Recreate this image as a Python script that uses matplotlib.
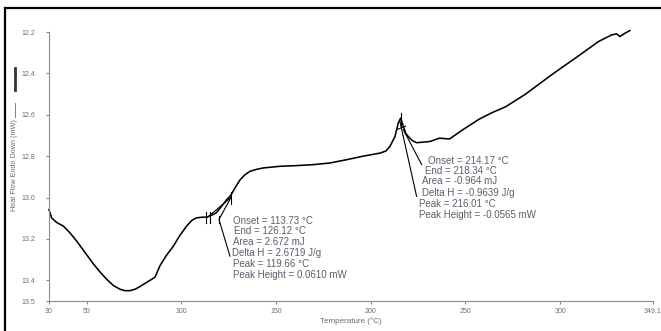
import matplotlib.pyplot as plt
from matplotlib.lines import Line2D

plt.rcParams['font.family'] = ['Liberation Sans', 'DejaVu Sans']

# DSC trace
temperature = [30.0, 31.4, 34.0, 37.6, 41.0, 44.6, 49.0, 53.4, 57.0, 60.5, 64.0, 67.5,
               70.0, 72.8, 75.5, 78.1, 81.0, 83.4, 86.0, 88.6, 92.0, 95.7, 99.0, 102.7,
               105.5, 108.0, 111.0, 113.5, 116.0, 118.3, 120.5, 123.9, 126.0, 128.5, 130.9,
               133.5, 136.2, 140.0, 143.2, 152.0, 160.0, 169.6, 178.4, 187.3, 196.0, 205.0,
               208.0, 210.1, 212.8, 214.5, 215.8, 217.2, 218.5, 219.8, 222.0, 224.2, 231.3,
               236.3, 241.6, 249.0, 257.3, 264.0, 271.3, 281.8, 295.8, 309.8, 320.3, 327.3,
               329.9, 331.6, 334.3, 336.9]
heat_flow = [13.058, 13.098, 13.12, 13.138, 13.17, 13.21, 13.265, 13.32, 13.36, 13.395, 13.425,
             13.443, 13.45, 13.45, 13.443, 13.43, 13.413, 13.40, 13.385, 13.33, 13.28, 13.235,
             13.185, 13.138, 13.11, 13.098, 13.095, 13.095, 13.085, 13.074, 13.05, 13.01, 12.99,
             12.95, 12.915, 12.89, 12.873, 12.863, 12.857, 12.849, 12.846, 12.841, 12.833,
             12.817, 12.80, 12.785, 12.775, 12.753, 12.705, 12.64, 12.616, 12.656, 12.69,
             12.705, 12.725, 12.735, 12.729, 12.713, 12.717, 12.67, 12.621, 12.59, 12.561,
             12.50, 12.405, 12.315, 12.246, 12.214, 12.209, 12.222, 12.206, 12.193]

x_ticks = [30, 50, 100, 150, 200, 250, 300, 349.1]
x_tick_labels = ['30', '50', '100', '150', '200', '250', '300', '349.1']
y_ticks = [12.2, 12.4, 12.6, 12.8, 13.0, 13.2, 13.4, 13.5]
y_tick_labels = ['12.2', '12.4', '12.6', '12.8', '13.0', '13.2', '13.4', '13.5']

peak1_text = ['Onset = 113.73 °C', 'End = 126.12 °C', 'Area = 2.672 mJ',
              'Delta H = 2.6719 J/g', 'Peak = 119.66 °C', 'Peak Height = 0.0610 mW']
peak2_text = ['Onset = 214.17 °C', 'End = 218.34 °C', 'Area = -0.964 mJ',
              'Delta H = -0.9639 J/g', 'Peak = 216.01 °C', 'Peak Height = -0.0565 mW']

text_col = '#625a6c'
tick_col = '#6e6878'
axis_col = '#8a8a8a'

fig = plt.figure(figsize=(6.61, 3.31), dpi=100)
ax = fig.add_axes([0.0741, 0.0906, 0.9138, 0.8127])

ax.plot(temperature, heat_flow, color='black', lw=1.15, clip_on=False)

# peak 1 analysis marks
ax.plot([113.73, 126.12], [13.095, 13.0], color='black', lw=0.8)
ax.plot([113.0, 113.0], [13.07, 13.125], color='black', lw=0.8)
ax.plot([115.0, 115.0], [13.07, 13.125], color='black', lw=0.8)
ax.plot([126.12, 126.12], [12.975, 13.03], color='black', lw=0.8)
ax.plot([126.12, 119.8, 125.6], [13.0, 13.106, 13.283], color='black', lw=0.8)
ax.plot([119.66, 119.66], [13.09, 13.125], color='black', lw=0.8)

# peak 2 analysis marks
ax.plot([216.0, 216.0], [12.59, 12.66], color='black', lw=0.8)
ax.plot([215.4, 224.2], [12.632, 12.994], color='black', lw=0.8)
ax.plot([217.2, 226.9], [12.672, 12.841], color='black', lw=0.8)
ax.plot([214.17, 218.34], [12.67, 12.655], color='black', lw=0.8)

x1 = [127.4, 127.9, 127.0, 126.8, 127.4, 127.4]
y1 = [13.114, 13.162, 13.215, 13.266, 13.323, 13.374]
for xt, yt, s in zip(x1, y1, peak1_text):
    ax.text(xt, yt, s, fontsize=7, color=text_col, ha='left', va='center')

x2 = [230.4, 228.6, 226.9, 226.9, 225.6, 225.6]
y2 = [12.825, 12.873, 12.921, 12.977, 13.03, 13.082]
for xt, yt, s in zip(x2, y2, peak2_text):
    ax.text(xt, yt, s, fontsize=7, color=text_col, ha='left', va='center')

ax.set_xlim(30, 349.1)
ax.set_ylim(13.5, 12.2)
ax.set_xticks(x_ticks)
ax.set_xticklabels(x_tick_labels)
ax.set_yticks(y_ticks)
ax.set_yticklabels(y_tick_labels)
ax.tick_params(axis='y', length=2, pad=8, labelsize=5, labelcolor=tick_col, color=axis_col)
ax.tick_params(axis='x', length=2, pad=3, labelsize=5, labelcolor=tick_col, color=axis_col)
for side in ['top', 'right']:
    ax.spines[side].set_visible(False)
for side in ['left', 'bottom']:
    ax.spines[side].set_color(axis_col)
    ax.spines[side].set_linewidth(0.8)

ax.set_xlabel('Temperature (°C)', fontsize=5.8, color=tick_col, labelpad=2)

# y label with its little legend marks
fig.text(15 / 661, 1 - 165 / 331, 'Heat Flow Endo Down (mW)', rotation=90,
         fontsize=5.2, color=tick_col, ha='center', va='center')
fig.add_artist(Line2D([15 / 661, 15 / 661], [1 - 117 / 331, 1 - 103 / 331],
                      color=tick_col, lw=0.6))
fig.add_artist(Line2D([15 / 661, 15 / 661], [1 - 90 / 331, 1 - 68 / 331],
                      color='#333333', lw=2.0))

# outer frame (left and top edges visible)
fig.add_artist(Line2D([5 / 661, 5 / 661], [0, 1 - 8 / 331], color='black', lw=1.6))
fig.add_artist(Line2D([5 / 661, 1], [1 - 8 / 331, 1 - 8 / 331], color='black', lw=1.6))

fig.savefig('out.png', dpi=100)
